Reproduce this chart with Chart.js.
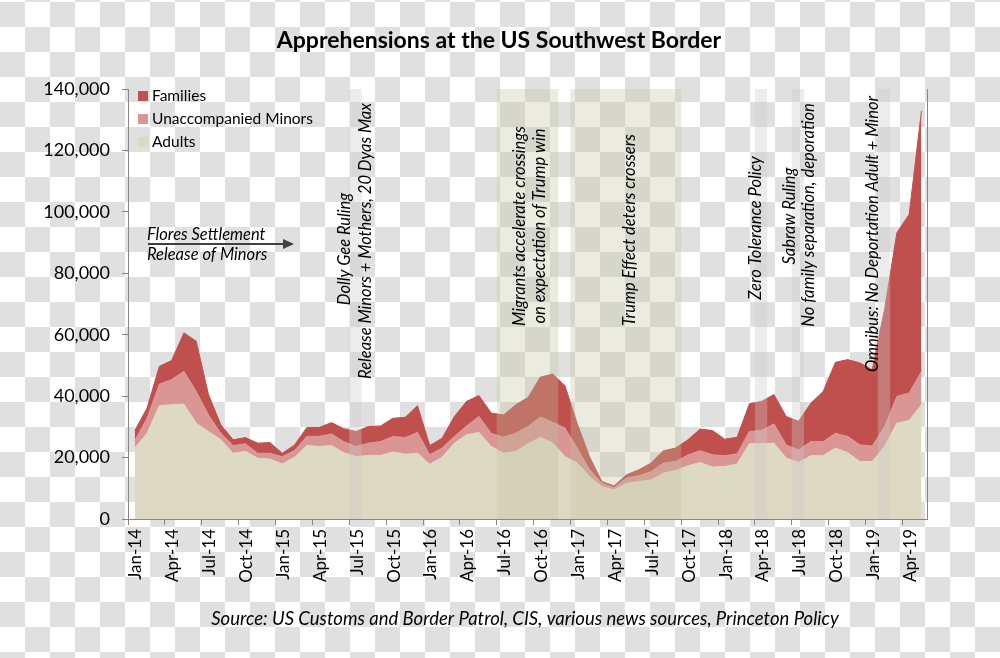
<!DOCTYPE html>
<html>
<head>
<meta charset="utf-8">
<script src="https://cdn.jsdelivr.net/npm/chart.js@4.4.1/dist/chart.umd.min.js"></script>
<style>
  html, body { margin: 0; padding: 0; }
  body {
    width: 1000px; height: 658px; overflow: hidden;
    background: conic-gradient(#fff 25%, #e0e0e0 0 50%, #fff 0 75%, #e0e0e0 0) 0 2px / 50px 50px;
  }
  canvas { display: block; }
</style>
</head>
<body>
<canvas id="chart" width="1000" height="658"></canvas>
<script>
// monthly values, Jan-14 .. May-19
const adults = [23100, 27900, 36900, 37200, 37400, 31200, 28500, 25800, 21400, 22000, 19800, 19500,
  17900, 20100, 23900, 23600, 23900, 21600, 20300, 20700, 20700, 21800, 21100, 21400,
  17800, 20100, 24700, 27400, 28200, 23600, 21400, 22000, 24500, 26600, 24700, 20300,
  18200, 13800, 10500, 9500, 11600, 12200, 12700, 14900, 15800, 17300, 18400, 16900,
  17100, 17900, 24500, 24500, 24700, 19800, 18400, 20600, 20600, 23100, 21600, 18700,
  18700, 23600, 31200, 32100, 37200];
const minors = [2400, 4900, 7000, 8200, 10700, 10300, 5400, 2100, 2500, 2500, 1600, 1900,
  2400, 2200, 3000, 3300, 3800, 3600, 3300, 4000, 4500, 5100, 5400, 6800,
  3100, 3000, 2200, 2900, 5200, 4300, 5200, 5900, 5600, 6600, 6800, 9300,
  4800, 2200, 1100, 700, 1700, 1900, 2700, 3300, 2900, 3600, 3800, 4000,
  3500, 3300, 4000, 4300, 6300, 4300, 4100, 4600, 4600, 4800, 5300, 5400,
  5100, 6500, 8700, 8900, 10900];
const families = [3200, 3300, 5800, 6200, 12500, 16400, 6600, 2800, 1900, 2000, 3300, 3500,
  1100, 1800, 2900, 2900, 3700, 4200, 4900, 5400, 5100, 5900, 6600, 8700,
  3000, 3200, 6500, 8000, 6800, 6600, 7300, 9300, 9500, 13000, 15700, 13800,
  8000, 4300, 600, 600, 1100, 1900, 2800, 4000, 4400, 4900, 7100, 7900,
  5400, 5400, 9000, 9500, 9500, 9300, 9300, 12500, 16300, 23100, 25000, 26700,
  24800, 38100, 53300, 58200, 84800];

const tickLabels = ['Jan-14', 'Apr-14', 'Jul-14', 'Oct-14', 'Jan-15', 'Apr-15', 'Jul-15', 'Oct-15',
  'Jan-16', 'Apr-16', 'Jul-16', 'Oct-16', 'Jan-17', 'Apr-17', 'Jul-17', 'Oct-17',
  'Jan-18', 'Apr-18', 'Jul-18', 'Oct-18', 'Jan-19', 'Apr-19'];
const yTicks = [0, 20000, 40000, 60000, 80000, 100000, 120000, 140000];

// shaded periods, in months from Jan-14
const bandStart = [18, 30, 36, 51, 54, 61];
const bandEnd   = [19, 35, 45, 52, 55, 62];
const bandTrump = [false, true, true, false, false, false];

// rotated notes: month position of text centre, pixel centre height
const notes = [
  { text: 'Dolly Gee Ruling', m: 17.6, y: 249 },
  { text: 'Release Minors + Mothers, 20 Dyas Max', m: 19.3, y: 241 },
  { text: 'Migrants accelerate crossings', m: 31.9, y: 226 },
  { text: 'on expectation of Trump win', m: 33.5, y: 226 },
  { text: 'Trump Effect deters crossers', m: 40.8, y: 230 },
  { text: 'Zero Tolerance Policy', m: 51.1, y: 228 },
  { text: 'Sabraw Ruling', m: 53.8, y: 216 },
  { text: 'No family separation, deporation', m: 55.4, y: 215 },
  { text: 'Omnibus: No Deportation Adult + Minor', m: 60.6, y: 234 }
];

const FONT = 'Lato, "Open Sans", sans-serif';
const toPoints = arr => arr.map((v, i) => ({ x: i + 0.55, y: v }));

const decor = {
  id: 'decor',
  afterDatasetsDraw(chart) {
    const c = chart.ctx, a = chart.chartArea, xs = chart.scales.x;
    c.save();
    // bands
    for (let i = 0; i < bandStart.length; i++) {
      const x0 = xs.getPixelForValue(bandStart[i]), x1 = xs.getPixelForValue(bandEnd[i]);
      c.fillStyle = bandTrump[i] ? 'rgba(192,192,158,0.32)' : 'rgba(200,200,200,0.35)';
      c.fillRect(x0, a.top, x1 - x0, a.bottom - a.top);
    }
    // notes
    c.fillStyle = '#000';
    c.font = 'italic 16.5px ' + FONT;
    c.textAlign = 'center';
    c.textBaseline = 'middle';
    notes.forEach(n => {
      c.save();
      c.translate(xs.getPixelForValue(n.m), n.y);
      c.rotate(-Math.PI / 2);
      c.fillText(n.text, 0, 0);
      c.restore();
    });
    c.restore();
  },
  afterDraw(chart) {
    const c = chart.ctx, a = chart.chartArea;
    c.save();
    // right border
    c.strokeStyle = '#868686';
    c.lineWidth = 1;
    c.beginPath();
    c.moveTo(a.right + 0.5, a.top);
    c.lineTo(a.right + 0.5, a.bottom);
    c.stroke();
    // title
    c.fillStyle = '#000';
    c.textAlign = 'center';
    c.textBaseline = 'middle';
    c.font = 'bold 23px ' + FONT;
    c.fillText('Apprehensions at the US Southwest Border', 499, 41);
    // source
    c.font = 'italic 18.5px ' + FONT;
    c.fillText('Source: US Customs and Border Patrol, CIS, various news sources, Princeton Policy', 525, 619);
    // legend
    c.textAlign = 'left';
    c.font = '15.5px ' + FONT;
    const ds = chart.data.datasets.slice().reverse();
    ds.forEach((d, i) => {
      const y = 96 + i * 23;
      c.fillStyle = d.backgroundColor;
      c.fillRect(138, y - 5, 10, 10);
      c.fillStyle = '#000';
      c.fillText(d.label, 152, y);
    });
    // Flores note with arrow
    c.font = 'italic 16.5px ' + FONT;
    c.textBaseline = 'alphabetic';
    c.fillText('Flores Settlement', 147, 240);
    c.fillText('Release of Minors', 147, 260);
    c.strokeStyle = '#404040';
    c.fillStyle = '#404040';
    c.lineWidth = 2;
    c.beginPath();
    c.moveTo(148, 244);
    c.lineTo(284, 244);
    c.stroke();
    c.beginPath();
    c.moveTo(283, 239);
    c.lineTo(294, 244);
    c.lineTo(283, 249);
    c.closePath();
    c.fill();
    c.restore();
  }
};

const series = (label, arr, color, fill) => ({
  label, data: toPoints(arr), fill,
  backgroundColor: color, borderColor: color, borderWidth: 1,
  pointRadius: 0, tension: 0
});

new Chart(document.getElementById('chart').getContext('2d'), {
  type: 'line',
  data: {
    datasets: [
      series('Adults', adults, '#ddd9c3', 'origin'),
      series('Unaccompanied Minors', minors, '#d99694', '-1'),
      series('Families', families, '#c0504d', '-1')
    ]
  },
  options: {
    responsive: false,
    animation: false,
    devicePixelRatio: 1,
    layout: { padding: { top: 89, right: 73, left: 0, bottom: 0 } },
    plugins: { legend: { display: false }, tooltip: { enabled: false } },
    scales: {
      x: {
        type: 'linear', min: 0, max: 65, z: 1,
        border: { color: '#868686' },
        grid: { drawOnChartArea: false, tickLength: 6, color: '#868686' },
        afterBuildTicks: s => { s.ticks = s.ticks.filter(t => t.value % 3 === 0 && t.value < 65); },
        ticks: {
          stepSize: 3, autoSkip: false, maxRotation: 90, minRotation: 90,
          labelOffset: 8, padding: 4, color: '#000',
          font: { family: FONT, size: 17 },
          callback: v => tickLabels[v / 3] || ''
        },
        afterFit: s => { s.height = 139; }
      },
      y: {
        stacked: true, min: 0, max: 140000, z: 1,
        border: { color: '#868686' },
        grid: { drawOnChartArea: false, tickLength: 6, color: '#868686' },
        afterBuildTicks: s => { s.ticks = yTicks.map(v => ({ value: v })); },
        ticks: {
          padding: 12, color: '#000',
          font: { family: FONT, size: 18 },
          callback: v => v.toLocaleString('en-US')
        },
        afterFit: s => { s.width = 128; }
      }
    }
  },
  plugins: [decor]
});
</script>
</body>
</html>
